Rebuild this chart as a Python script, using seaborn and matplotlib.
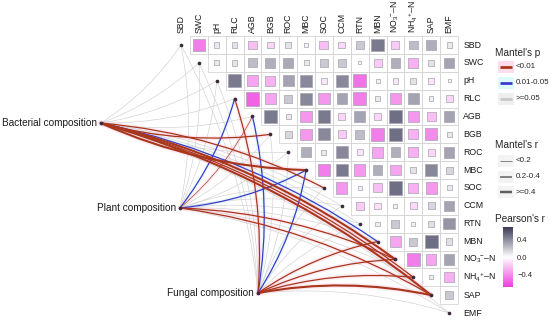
import numpy as np
import pandas as pd
import matplotlib
matplotlib.use("Agg")
import matplotlib.pyplot as plt
import seaborn as sns
from matplotlib.patches import FancyArrowPatch, Rectangle
from matplotlib.colors import LinearSegmentedColormap, Normalize
import matplotlib.cm as cm

sns.set_theme(style="white")
plt.rcParams["font.family"] = ["Liberation Sans", "DejaVu Sans"]
plt.rcParams["mathtext.fontset"] = "custom"
plt.rcParams["mathtext.rm"] = "Liberation Sans"
plt.rcParams["mathtext.it"] = "Liberation Sans:italic"
plt.rcParams["mathtext.default"] = "regular"

# ---------------- data ----------------
variables = ["SBD", "SWC", "pH", "RLC", "AGB", "BGB", "ROC", "MBC", "SOC",
             "CCM", "RTN", "MBN", "NO3-N", "NH4-N", "SAP", "EMF"]
var_labels = ["SBD", "SWC", "pH", "RLC", "AGB", "BGB", "ROC", "MBC", "SOC",
              "CCM", "RTN", "MBN", r"NO$_3$$^{-}$–N", r"NH$_4$$^{+}$–N", "SAP", "EMF"]

# Pearson's r, upper triangle (row variable vs. following variables)
r_SBD = [-0.50, 0.08, 0.10, -0.25, -0.15, 0.10, 0.05, -0.25, -0.15, 0.20, 0.50, -0.20, 0.25, 0.30, 0.08]
r_SWC = [0.08, 0.10, 0.25, 0.30, 0.32, 0.08, 0.20, 0.20, 0.03, -0.20, 0.30, -0.30, 0.10, 0.35]
r_pH = [0.50, -0.35, -0.30, 0.35, 0.45, -0.10, 0.45, -0.55, 0.05, -0.10, 0.10, -0.10, 0.03]
r_RLC = [-0.60, -0.35, 0.20, 0.45, -0.40, 0.35, -0.50, 0.08, -0.40, 0.35, 0.06, -0.15]
r_AGB = [0.50, 0.08, -0.40, 0.50, -0.15, 0.35, -0.15, 0.55, -0.40, -0.25, 0.35]
r_BGB = [0.15, -0.40, 0.45, -0.20, 0.25, -0.50, 0.55, -0.30, -0.45, 0.08]
r_ROC = [0.30, 0.08, 0.45, -0.10, -0.35, 0.30, -0.30, -0.15, 0.35]
r_MBC = [-0.50, 0.50, -0.40, 0.30, -0.35, 0.10, 0.45, 0.15]
r_SOC = [-0.40, 0.05, -0.25, 0.55, -0.30, -0.40, 0.08]
r_CCM = [-0.20, -0.12, 0.05, -0.15, 0.15, 0.35]
r_RTN = [0.06, 0.20, 0.05, 0.12, 0.40]
r_MBN = [-0.35, 0.20, 0.55, 0.12]
r_NO3 = [-0.50, -0.35, 0.35]
r_NH4 = [0.06, -0.30]
r_SAP = [0.20]
pearson_rows = [r_SBD, r_SWC, r_pH, r_RLC, r_AGB, r_BGB, r_ROC, r_MBC, r_SOC,
                r_CCM, r_RTN, r_MBN, r_NO3, r_NH4, r_SAP]

# Mantel tests (one value per environmental variable, same order as variables)
groups = ["Bacterial composition", "Plant composition", "Fungal composition"]
bact_mantel_r = [0.10, 0.10, 0.10, 0.10, 0.10, 0.30, 0.10, 0.45, 0.30, 0.10, 0.10, 0.30, 0.45, 0.30, 0.45, 0.10]
bact_mantel_p = [0.30, 0.30, 0.30, 0.30, 0.30, 0.005, 0.30, 0.005, 0.005, 0.30, 0.30, 0.03, 0.005, 0.005, 0.005, 0.30]
plant_mantel_r = [0.10, 0.10, 0.10, 0.30, 0.15, 0.10, 0.10, 0.30, 0.10, 0.10, 0.10, 0.10, 0.30, 0.10, 0.30, 0.10]
plant_mantel_p = [0.30, 0.30, 0.30, 0.03, 0.005, 0.30, 0.30, 0.03, 0.30, 0.30, 0.30, 0.30, 0.005, 0.30, 0.005, 0.30]
fungal_mantel_r = [0.10, 0.10, 0.10, 0.30, 0.25, 0.10, 0.10, 0.30, 0.10, 0.10, 0.10, 0.30, 0.30, 0.30, 0.45, 0.10]
fungal_mantel_p = [0.30, 0.30, 0.30, 0.005, 0.03, 0.30, 0.30, 0.03, 0.30, 0.30, 0.30, 0.005, 0.005, 0.005, 0.005, 0.30]

# ---------------- layout / style ----------------
W, H = 550, 323
U = 17.87                 # pixels per cell
X0, Y0 = 181, 45          # pixel position of the first diagonal cell
group_pos = {"Bacterial composition": (-4.48, 4.37),
             "Plant composition": (-0.06, 9.12),
             "Fungal composition": (4.31, 13.88)}
p_colors = {"<0.01": "#A8361B", "0.01-0.05": "#3C3CCB", ">=0.05": "#D0D0D0"}
p_halo = {"<0.01": "#FFB0D0", "0.01-0.05": "#B0F2F2", ">=0.05": None}
r_widths = {"<0.2": 0.45, "0.2-0.4": 0.9, ">=0.4": 1.5}
cmap = LinearSegmentedColormap.from_list("pr", ["#EC3EDE", "#FFFFFF", "#393957"])
norm = Normalize(-0.75, 0.75)

fig = plt.figure(figsize=(W / 100, H / 100), dpi=100)
ax = fig.add_axes([0, 0, 1, 1])
ax.set_xlim(-X0 / U, (W - X0) / U)
ax.set_ylim((H - Y0) / U, -Y0 / U)
ax.axis("off")

n = len(variables)
# grid
for i in range(n):
    for j in range(i + 1, n):
        ax.add_patch(Rectangle((j - 0.5, i - 0.5), 1, 1, fill=False,
                               ec="#D6D6D6", lw=0.6, zorder=1))

# correlation squares
recs = []
for i, row in enumerate(pearson_rows):
    for k, val in enumerate(row):
        recs.append({"row": i, "col": i + 1 + k, "r": val, "absr": abs(val)})
df = pd.DataFrame(recs)
max_side_pt = 1.0 * np.sqrt(0.7) * U * 0.72
sns.scatterplot(data=df, x="col", y="row", hue="r", palette=cmap, hue_norm=norm,
                size="absr", sizes=(0, max_side_pt ** 2), size_norm=(0, 0.7),
                marker="s", edgecolor="#a7a2b0", linewidth=0.5, legend=False,
                ax=ax, zorder=3)

# Mantel links
def p_class(p):
    return "<0.01" if p < 0.01 else ("0.01-0.05" if p < 0.05 else ">=0.05")

def r_class(r):
    return "<0.2" if r < 0.2 else ("0.2-0.4" if r < 0.4 else ">=0.4")

links = []
for g, rr, pp in [(groups[0], bact_mantel_r, bact_mantel_p),
                  (groups[1], plant_mantel_r, plant_mantel_p),
                  (groups[2], fungal_mantel_r, fungal_mantel_p)]:
    for j, (r, p) in enumerate(zip(rr, pp)):
        links.append((g, j, p_class(p), r_class(r)))

order = {">=0.05": 0, "0.01-0.05": 1, "<0.01": 2}
links.sort(key=lambda t: (order[t[2]], r_widths[t[3]]))
for g, j, pc, rc in links:
    sx, sy = group_pos[g]
    rad = 0.1 if j < (n - 1) / 2 else -0.1
    lw = r_widths[rc]
    if p_halo[pc]:
        ax.add_patch(FancyArrowPatch((sx, sy), (j, j), arrowstyle="-",
                                     connectionstyle=f"arc3,rad={rad}",
                                     color=p_halo[pc], lw=lw + 2.2, alpha=0.25,
                                     shrinkA=0, shrinkB=0, zorder=2))
    ax.add_patch(FancyArrowPatch((sx, sy), (j, j), arrowstyle="-",
                                 connectionstyle=f"arc3,rad={rad}",
                                 color=p_colors[pc], lw=lw,
                                 shrinkA=0, shrinkB=0, zorder=2.5))

# dots
ax.scatter(np.arange(n), np.arange(n), s=7, color="#3a2a3c", zorder=4, lw=0)
for g in groups:
    sx, sy = group_pos[g]
    ax.scatter([sx], [sy], s=7, color="#3a2a3c", zorder=4, lw=0)
    ax.text(sx - 0.22, sy, g, ha="right", va="center", fontsize=7.2, color="#1a1a1a")

# axis labels
for j, lab in enumerate(var_labels):
    ax.text(j, -0.68, lab, rotation=90, ha="center", va="bottom",
            fontsize=6.3, color="#1a1a1a")
    ax.text(15.8, j, lab, ha="left", va="center", fontsize=6.3, color="#1a1a1a")

# ---------------- legends ----------------
lax = fig.add_axes([0, 0, 1, 1], zorder=5)
lax.set_xlim(0, W)
lax.set_ylim(H, 0)
lax.axis("off")
lax.patch.set_alpha(0)

lx_title, lx0, lx1, lx_text = 495, 500, 512, 516
lax.text(lx_title, 53, "Mantel's p", fontsize=7.2, va="center", ha="left")
for k, lab in enumerate(["<0.01", "0.01-0.05", ">=0.05"]):
    y = 67 + 16 * k
    bg = {"<0.01": "#FFDCEB", "0.01-0.05": "#DDF9F9", ">=0.05": "#EFEFEF"}[lab]
    lax.add_patch(Rectangle((lx0 - 2, y - 6), lx1 - lx0 + 4, 12, color=bg, lw=0))
    lax.plot([lx0, lx1], [y, y], color=p_colors[lab] if lab != ">=0.05" else "#C8C8C8",
             lw=2.0, solid_capstyle="butt")
    lax.text(lx_text, y, lab, fontsize=5.8, va="center", ha="left")

lax.text(lx_title, 145, "Mantel's r", fontsize=7.2, va="center", ha="left")
for k, lab in enumerate(["<0.2", "0.2-0.4", ">=0.4"]):
    y = 161 + 15.5 * k
    lax.add_patch(Rectangle((lx0 - 2, y - 6), lx1 - lx0 + 4, 12, color="#F3F3F3", lw=0))
    lax.plot([lx0, lx1], [y, y], color="#606060", lw=r_widths[lab] * 1.2,
             solid_capstyle="butt")
    lax.text(lx_text, y, lab, fontsize=5.8, va="center", ha="left")

lax.text(lx_title, 219, "Pearson's r", fontsize=7.2, va="center", ha="left")
cax = fig.add_axes([503 / W, 1 - 287 / H, 10 / W, 60 / H])
cb = fig.colorbar(cm.ScalarMappable(norm=Normalize(-0.7, 0.7), cmap=cmap), cax=cax)
cb.outline.set_visible(False)
cb.set_ticks([0.4, 0.0, -0.4])
cb.set_ticklabels(["0.4", "0.0", "\u22120.4"])
cax.tick_params(length=0, labelsize=5.5, pad=3)

fig.savefig("out.png", dpi=100)
